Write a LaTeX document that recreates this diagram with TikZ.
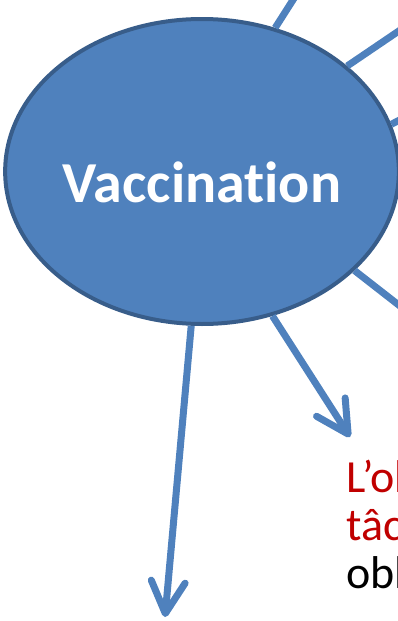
\documentclass[tikz,border=0pt]{standalone}
\usepackage{fontspec}
\setmainfont{Carlito}[Ligatures=NoCommon]
\usepackage{xcolor}
\usepackage{tikz}
\usetikzlibrary{arrows.meta,positioning,shapes.geometric}
\definecolor{vaccblue}{HTML}{4F81BD}
\definecolor{vaccedge}{HTML}{385D8A}
\definecolor{alertred}{HTML}{C00000}

\begin{document}
\begin{tikzpicture}[
  x=1pt, y=-1pt,
  hub/.style={ellipse, draw=vaccedge, line width=4pt, fill=vaccblue, minimum width=376pt, minimum height=305pt, inner sep=0pt, text=white, font=\fontsize{58}{68}\selectfont\bfseries, text height=62pt, text depth=0pt},
  spoke/.style={draw=vaccblue, line width=7pt},
  arr/.style ={spoke, -{Straight Barb[length=32pt, width=34pt, line cap=round, line join=round]}},
  note/.style={font=\fontsize{46}{48}\selectfont, anchor=base west, inner sep=0pt},
]
  \useasboundingbox (0,0) rectangle (398,621);
  \clip (0,0) rectangle (398,621);

  \node[hub] (vacc) at (202,171.5) {Vaccination};

  % branches running out of the frame
  \coordinate (out1) at (321,-44);
  \coordinate (out2) at (446,-1);
  \coordinate (out3) at (438,100);
  \coordinate (out4) at (440,191);
  \coordinate (out5) at (441,338);
  \draw[spoke] (vacc.63)  -- (out1);
  \draw[spoke] (vacc.36)  -- (out2);
  \draw[spoke] (vacc.14)  -- (out3);
  \draw[spoke] (vacc.-6)  -- (out4);
  \draw[spoke] (vacc.-33) -- (out5);

  % arrows
  \coordinate (tipA) at (350,437);
  \coordinate (tipB) at (165,617);
  \draw[arr] (vacc.-64) -- (tipA);
  \draw[arr] (vacc.-94) -- (tipB);

  \node[note, text=alertred] (line1) at (346,492) {L’ob};
  \node[note, text=alertred] (line2) at (346,540) {tâc};
  \node[note, text=black]    (line3) at (346,588) {obl};
\end{tikzpicture}
\end{document}
